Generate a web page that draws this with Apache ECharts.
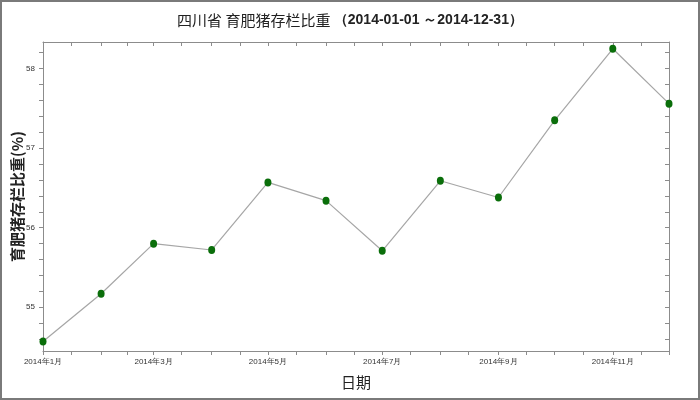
<!DOCTYPE html>
<html><head><meta charset="utf-8">
<script src="https://cdn.jsdelivr.net/npm/echarts@6/dist/echarts.min.js"></script>
<style>html,body{margin:0;padding:0;background:#fff}#c{width:700px;height:400px}</style>
</head><body><div id="c"></div>
<script>
const dates = ['2014-01-01','2014-02-01','2014-03-01','2014-04-01','2014-05-01','2014-06-01','2014-07-01','2014-08-01','2014-09-01','2014-10-01','2014-11-01','2014-12-01'];
const values = [54.57,55.17,55.80,55.72,56.57,56.34,55.71,56.59,56.38,57.35,58.25,57.56];
const xLabelDates = ['2014-01-01','2014-03-01','2014-05-01','2014-07-01','2014-09-01','2014-11-01'];
const xTickDates = ['2014-01-01','2014-01-16','2014-02-01','2014-02-15','2014-03-01','2014-03-16','2014-04-01','2014-04-16','2014-05-01','2014-05-16','2014-06-01','2014-06-16','2014-07-01','2014-07-16','2014-08-01','2014-08-16','2014-09-01','2014-09-16','2014-10-01','2014-10-16','2014-11-01','2014-11-16','2014-12-01'];
const yLabels = [55,56,57,58];
const yTicks = [54.6,54.8,55,55.2,55.4,55.6,55.8,56,56.2,56.4,56.6,56.8,57,57.2,57.4,57.6,57.8,58,58.2];
const titleMain = '四川省 育肥猪存栏比重 ';
const titleDates = '（2014-01-01 ～2014-12-31）';

const DAY = 86400000;
const start = Date.UTC(2014, 0, 1);
const dayOf = s => { const p = s.split('-').map(Number); return Math.round((Date.UTC(p[0], p[1]-1, p[2]) - start) / DAY); };
const fmt = v => { const d = new Date(start + Math.round(v) * DAY); return d.getUTCFullYear() + '年' + (d.getUTCMonth()+1) + '月'; };
const axisColor = '#8c8c8c';
const chart = echarts.init(document.getElementById('c'));
const xMin = dayOf(xTickDates[0]), xMax = dayOf(dates[dates.length-1]);
chart.setOption({
  animation: false,
  backgroundColor: '#fff',
  title: {
    text: '{a|' + titleMain + '}{b|' + titleDates + '}',
    left: 'center', top: 8,
    textStyle: { rich: {
      a: { fontFamily: 'Noto Sans CJK SC', fontWeight: 'normal', fontSize: 15, color: '#222' },
      b: { fontFamily: 'Liberation Sans', fontWeight: 'bold', fontSize: 14, color: '#222' }
    } }
  },
  grid: { left: 43, right: 31, top: 42, bottom: 49, containLabel: false, outerBoundsMode: 'none' },
  graphic: [{ type: 'rect', shape: { x: 1, y: 1, width: 698, height: 398 }, style: { fill: 'none', stroke: '#7a7a7a', lineWidth: 2 }, silent: true }],
  xAxis: [{
    type: 'value', position: 'bottom', min: xMin, max: xMax,
    axisLine: { show: true, onZero: false, lineStyle: { color: axisColor } },
    axisTick: { show: true, length: 4, lineStyle: { color: axisColor }, customValues: xTickDates.map(dayOf) },
    axisLabel: { customValues: xLabelDates.map(dayOf), formatter: fmt, fontSize: 8, color: '#333', margin: 7, fontFamily: 'Liberation Sans' },
    splitLine: { show: false },
    name: '日期', nameLocation: 'middle', nameGap: 24, nameMoveOverlap: false,
    nameTextStyle: { fontSize: 15, color: '#222', fontFamily: 'Noto Sans CJK SC' }
  }, {
    type: 'value', position: 'top', min: xMin, max: xMax,
    axisLine: { show: true, onZero: false, lineStyle: { color: axisColor } },
    axisTick: { show: true, inside: true, length: 4, lineStyle: { color: axisColor }, customValues: xTickDates.map(dayOf) },
    axisLabel: { show: false }, splitLine: { show: false }
  }],
  yAxis: [{
    type: 'value', position: 'left', min: 54.45, max: 58.335,
    axisLine: { show: true, onZero: false, lineStyle: { color: axisColor } },
    axisTick: { show: true, length: 4, lineStyle: { color: axisColor }, customValues: yTicks },
    axisLabel: { customValues: yLabels, fontSize: 8, color: '#333', margin: 8, fontFamily: 'Liberation Sans' },
    splitLine: { show: false },
    name: '育肥猪存栏比重(%)', nameLocation: 'middle', nameGap: 18, nameRotate: 90, nameMoveOverlap: false,
    nameTextStyle: { fontSize: 15, color: '#222', fontWeight: 'bold', fontFamily: 'Noto Sans CJK SC' }
  }, {
    type: 'value', position: 'right', min: 54.45, max: 58.335,
    axisLine: { show: true, onZero: false, lineStyle: { color: axisColor } },
    axisTick: { show: true, inside: true, length: 4, lineStyle: { color: axisColor }, customValues: yTicks },
    axisLabel: { show: false }, splitLine: { show: false }
  }],
  series: [{
    type: 'line', xAxisIndex: 0, yAxisIndex: 0,
    data: dates.map((d, i) => [dayOf(d), values[i]]),
    clip: false,
    symbol: 'circle', symbolSize: [7, 8],
    itemStyle: { color: '#0a6e0a' },
    lineStyle: { color: '#a6a6a6', width: 1.2 }
  }]
});
</script></body></html>
